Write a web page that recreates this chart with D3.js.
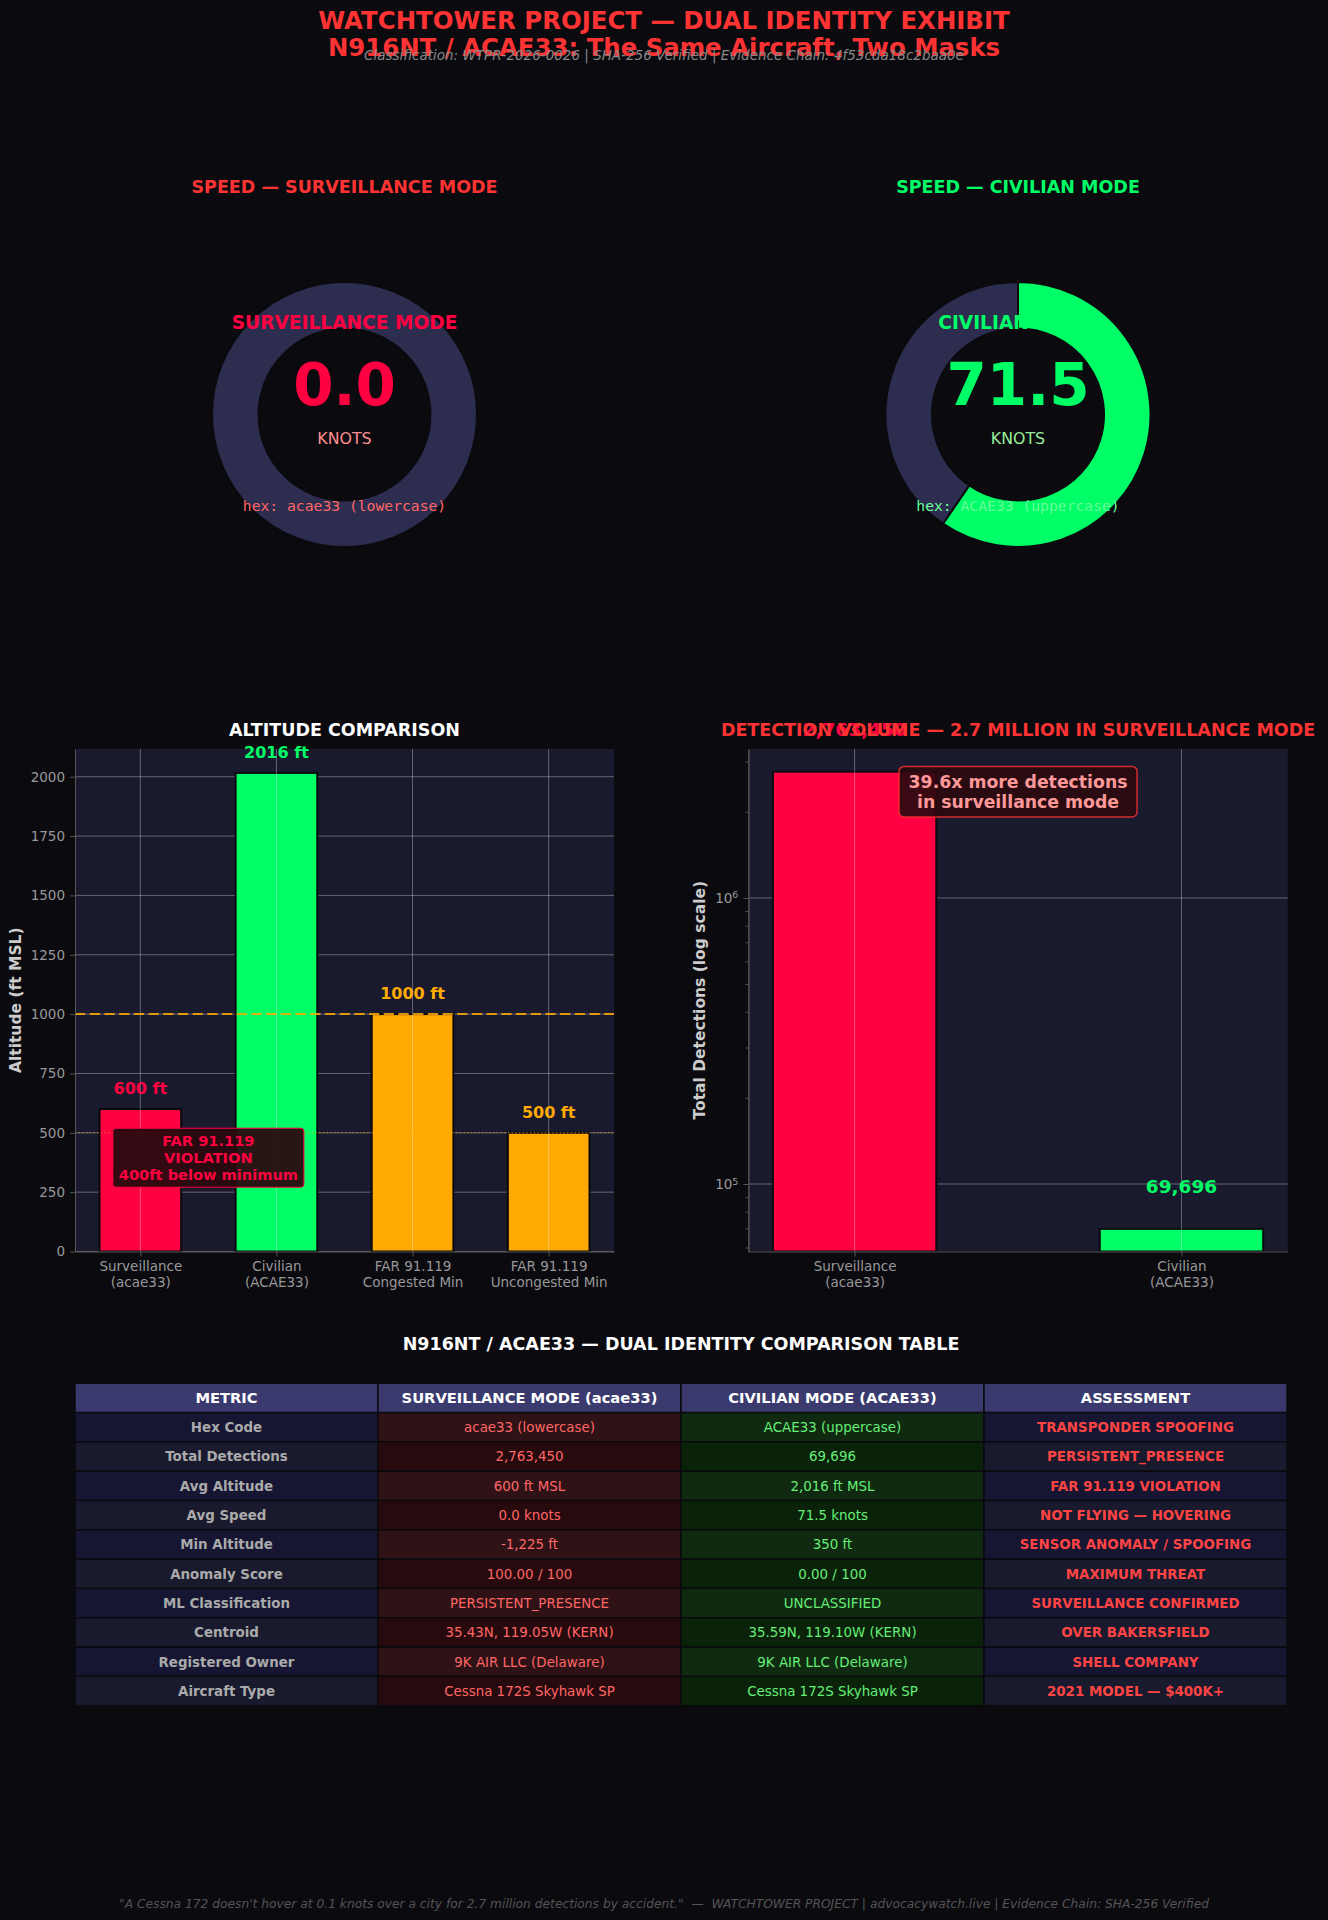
<!DOCTYPE html>
<html>
<head>
<meta charset="utf-8">
<script src="https://cdn.jsdelivr.net/npm/d3@7"></script>
<style>
  body { margin: 0; background: #0a0a0f; }
  svg { display: block; font-family: "DejaVu Sans", sans-serif; }
</style>
</head>
<body>
<svg id="fig" width="1328" height="1920"></svg>
<script>
// ---- data ----
const speedTitles = ["SPEED — SURVEILLANCE MODE", "SPEED — CIVILIAN MODE"]
const speedModes = ["SURVEILLANCE MODE", "CIVILIAN MODE"]
const speedValues = [0.0, 71.5]
const speedMax = 120
const hexLabels = ["hex: acae33 (lowercase)", "hex: ACAE33 (uppercase)"]

const altCategories = ["Surveillance\n(acae33)", "Civilian\n(ACAE33)", "FAR 91.119\nCongested Min", "FAR 91.119\nUncongested Min"]
const altValues = [600, 2016, 1000, 500]
const altTicks = [0, 250, 500, 750, 1000, 1250, 1500, 1750, 2000]
const farCongested = 1000
const farUncongested = 500

const detCategories = ["Surveillance\n(acae33)", "Civilian\n(ACAE33)"]
const detValues = [2763450, 69696]
const detTicks = [1e5, 1e6]
const detRatioText = ["39.6x more detections", "in surveillance mode"]

const tableColumns = ["METRIC", "SURVEILLANCE MODE (acae33)", "CIVILIAN MODE (ACAE33)", "ASSESSMENT"]
const tableMetrics = ["Hex Code", "Total Detections", "Avg Altitude", "Avg Speed", "Min Altitude", "Anomaly Score", "ML Classification", "Centroid", "Registered Owner", "Aircraft Type"]
const survColumn = ["acae33 (lowercase)", "2,763,450", "600 ft MSL", "0.0 knots", "-1,225 ft", "100.00 / 100", "PERSISTENT_PRESENCE", "35.43N, 119.05W (KERN)", "9K AIR LLC (Delaware)", "Cessna 172S Skyhawk SP"]
const civColumn = ["ACAE33 (uppercase)", "69,696", "2,016 ft MSL", "71.5 knots", "350 ft", "0.00 / 100", "UNCLASSIFIED", "35.59N, 119.10W (KERN)", "9K AIR LLC (Delaware)", "Cessna 172S Skyhawk SP"]
const assessColumn = ["TRANSPONDER SPOOFING", "PERSISTENT_PRESENCE", "FAR 91.119 VIOLATION", "NOT FLYING — HOVERING", "SENSOR ANOMALY / SPOOFING", "MAXIMUM THREAT", "SURVEILLANCE CONFIRMED", "OVER BAKERSFIELD", "SHELL COMPANY", "2021 MODEL — $400K+"]

// ---- style ----
const BG = "#0a0a0f", AXBG = "#1a1a2e", RED = "#ff0040", GREEN = "#00ff66", ORANGE = "#ffaa00"
const TITLE_RED = "#ff3333", RING = "#2d2d50", TICK = "#999999", SPINE = "#555555"

const svg = d3.select("#fig")
svg.append("rect").attr("width", 1328).attr("height", 1920).attr("fill", BG)

// header
svg.append("text").attr("x", 664).attr("y", 28.5).attr("text-anchor", "middle")
  .attr("font-size", 24.4).attr("font-weight", "bold").attr("fill", TITLE_RED)
  .text("WATCHTOWER PROJECT — DUAL IDENTITY EXHIBIT")
svg.append("text").attr("x", 664).attr("y", 56).attr("text-anchor", "middle")
  .attr("font-size", 24.4).attr("font-weight", "bold").attr("fill", TITLE_RED)
  .text("N916NT / ACAE33: The Same Aircraft, Two Masks")
svg.append("text").attr("x", 664).attr("y", 59.5).attr("text-anchor", "middle")
  .attr("font-size", 13.5).attr("font-style", "italic").attr("fill", "#888888")
  .text("Classification: WTPR-2026-0026 | SHA-256 Verified | Evidence Chain: 4f53cda18c2baa0e")

// ---- speed donuts ----
const donutCx = [344.5, 1018], donutCy = 414.5
const donutMain = [RED, GREEN], donutKnots = ["#ff9090", "#99ee99"], donutHex = ["#ff6666", "#66ff99"]
const donutTitle = [TITLE_RED, GREEN]
const pie = d3.pie().sort(null).value(d => d)
const arc = d3.arc().innerRadius(86).outerRadius(132.5)

speedValues.forEach((v, i) => {
  const cx = donutCx[i]
  svg.append("text").attr("x", cx).attr("y", 192.5).attr("text-anchor", "middle")
    .attr("font-size", 17.5).attr("font-weight", "bold").attr("fill", donutTitle[i])
    .text(speedTitles[i])
  const g = svg.append("g").attr("transform", `translate(${cx},${donutCy})`)
  g.selectAll("path").data(pie([v, speedMax - v])).join("path")
    .attr("d", arc)
    .attr("fill", (d, j) => j == 0 ? donutMain[i] : RING)
    .attr("stroke", BG).attr("stroke-width", d => d.endAngle - d.startAngle > 0 ? 2 : 0)
  g.append("text").attr("y", 328.8 - donutCy).attr("text-anchor", "middle")
    .attr("font-size", 18.6).attr("font-weight", "bold").attr("fill", donutMain[i])
    .text(speedModes[i])
  g.append("text").attr("y", 405 - donutCy).attr("text-anchor", "middle")
    .attr("font-size", 58).attr("font-weight", "bold").attr("fill", donutMain[i])
    .text(v.toFixed(1))
  g.append("text").attr("y", 443.8 - donutCy).attr("text-anchor", "middle")
    .attr("font-size", 15.8).attr("fill", donutKnots[i])
    .text("KNOTS")
  g.append("text").attr("y", 511 - donutCy).attr("text-anchor", "middle")
    .attr("font-family", "DejaVu Sans Mono, monospace")
    .attr("font-size", 14.7).attr("fill", donutHex[i])
    .text(hexLabels[i])
})

// ---- helpers ----
function styleAxis(g) {
  g.selectAll(".domain").attr("stroke", SPINE).attr("stroke-width", 1)
  g.selectAll(".tick line").attr("stroke", SPINE)
  g.selectAll(".tick text").attr("fill", TICK).attr("font-size", 13.5)
    .attr("font-family", "DejaVu Sans, sans-serif")
}
function multiLineTicks(g, lh) {
  g.selectAll(".tick text").each(function () {
    const t = d3.select(this)
    const lines = t.text().split("\n")
    t.text(null).attr("dy", null).attr("y", 19.5)
    lines.forEach((s, k) => t.append("tspan").attr("x", 0).attr("dy", k == 0 ? 0 : lh).text(s))
  })
}

const AX_TOP = 749, AX_BOT = 1251.5

// ---- altitude comparison ----
{
  const x0 = 75, x1 = 614
  const x = d3.scaleLinear().domain([-0.48, 3.48]).range([x0, x1])
  const y = d3.scaleLinear().domain([0, d3.max(altValues) * 1.05]).range([AX_BOT, AX_TOP])
  const colors = [RED, GREEN, ORANGE, ORANGE]
  const bw = 0.6

  svg.append("rect").attr("x", x0).attr("y", AX_TOP).attr("width", x1 - x0).attr("height", AX_BOT - AX_TOP).attr("fill", AXBG)
  svg.append("g").selectAll("line").data(altTicks).join("line")
    .attr("x1", x0).attr("x2", x1).attr("y1", d => y(d)).attr("y2", d => y(d))
    .attr("stroke", "#ffffff").attr("stroke-opacity", 0.33)

  svg.append("g").selectAll("rect").data(altValues).join("rect")
    .attr("x", (d, i) => x(i - bw / 2)).attr("width", x(bw) - x(0))
    .attr("y", d => y(d)).attr("height", d => y(0) - y(d))
    .attr("fill", (d, i) => colors[i]).attr("stroke", BG).attr("stroke-width", 2)

  svg.append("g").selectAll("line").data(altValues).join("line")
    .attr("x1", (d, i) => x(i)).attr("x2", (d, i) => x(i)).attr("y1", AX_TOP).attr("y2", AX_BOT)
    .attr("stroke", "#ffffff").attr("stroke-opacity", 0.33)

  svg.append("line").attr("x1", x0).attr("x2", x1).attr("y1", y(farCongested)).attr("y2", y(farCongested))
    .attr("stroke", ORANGE).attr("stroke-width", 2).attr("stroke-dasharray", "10.3,4.4").attr("stroke-opacity", 0.85)
  svg.append("line").attr("x1", x0).attr("x2", x1).attr("y1", y(farUncongested)).attr("y2", y(farUncongested))
    .attr("stroke", ORANGE).attr("stroke-width", 1).attr("stroke-dasharray", "1.4,2.3").attr("stroke-opacity", 0.7)

  svg.append("g").selectAll("text").data(altValues).join("text")
    .attr("x", (d, i) => x(i)).attr("y", d => y(d + 45) - 4)
    .attr("text-anchor", "middle").attr("font-size", 16).attr("font-weight", "bold")
    .attr("fill", (d, i) => colors[i]).text(d => `${d} ft`)

  // violation box
  const bx = x(0.5), byc = y(395)
  svg.append("rect").attr("x", bx - 95.5).attr("y", byc - 29.5).attr("width", 191).attr("height", 59)
    .attr("rx", 3).attr("fill", "#2a0a10").attr("fill-opacity", 0.95).attr("stroke", RED).attr("stroke-width", 1)
  const vt = svg.append("text").attr("text-anchor", "middle").attr("font-size", 14.6)
    .attr("font-weight", "bold").attr("fill", RED)
  ;["FAR 91.119", "VIOLATION", "400ft below minimum"].forEach((s, k) =>
    vt.append("tspan").attr("x", bx).attr("y", byc - 11.9 + k * 17.2).text(s))

  const ya = svg.append("g").attr("transform", `translate(${x0},0)`)
    .call(d3.axisLeft(y).tickValues(altTicks).tickFormat(d3.format("d")).tickSize(5).tickPadding(5).tickSizeOuter(0))
  styleAxis(ya)
  const xa = svg.append("g").attr("transform", `translate(0,${AX_BOT})`)
    .call(d3.axisBottom(x).tickValues(d3.range(altCategories.length)).tickFormat(i => altCategories[i]).tickSize(5).tickSizeOuter(0))
  styleAxis(xa)
  multiLineTicks(xa, 15.6)

  svg.append("text").attr("transform", `translate(20.5,${(AX_TOP + AX_BOT) / 2}) rotate(-90)`)
    .attr("text-anchor", "middle").attr("font-size", 15.5).attr("font-weight", "bold").attr("fill", "#cccccc")
    .text("Altitude (ft MSL)")
  svg.append("text").attr("x", (x0 + x1) / 2).attr("y", 736).attr("text-anchor", "middle")
    .attr("font-size", 17.5).attr("font-weight", "bold").attr("fill", "#ffffff")
    .text("ALTITUDE COMPARISON")
}

// ---- detection volume ----
{
  const x0 = 748.4, x1 = 1287.7
  const x = d3.scaleLinear().domain([-0.325, 1.325]).range([x0, x1])
  const y = d3.scaleLog().domain([d3.min(detValues) / 1.2, d3.max(detValues) * 1.2]).range([AX_BOT, AX_TOP])
  const colors = [RED, GREEN]
  const bw = 0.5

  svg.append("rect").attr("x", x0).attr("y", AX_TOP).attr("width", x1 - x0).attr("height", AX_BOT - AX_TOP).attr("fill", AXBG)
  svg.append("g").selectAll("line").data(detTicks).join("line")
    .attr("x1", x0).attr("x2", x1).attr("y1", d => y(d)).attr("y2", d => y(d))
    .attr("stroke", "#ffffff").attr("stroke-opacity", 0.33)

  svg.append("g").selectAll("rect").data(detValues).join("rect")
    .attr("x", (d, i) => x(i - bw / 2)).attr("width", x(bw) - x(0))
    .attr("y", d => y(d)).attr("height", d => AX_BOT - y(d))
    .attr("fill", (d, i) => colors[i]).attr("stroke", BG).attr("stroke-width", 2)

  svg.append("g").selectAll("line").data(detValues).join("line")
    .attr("x1", (d, i) => x(i)).attr("x2", (d, i) => x(i)).attr("y1", AX_TOP).attr("y2", AX_BOT)
    .attr("stroke", "#ffffff").attr("stroke-opacity", 0.33)

  svg.append("g").selectAll("text").data(detValues).join("text")
    .attr("x", (d, i) => x(i)).attr("y", d => y(d * 1.3) - 3.5)
    .attr("text-anchor", "middle").attr("font-size", 18.5).attr("font-weight", "bold")
    .attr("fill", (d, i) => colors[i]).text(d => d3.format(",")(d))

  // ratio box
  const bx = (x0 + x1) / 2, byc = AX_BOT - 0.915 * (AX_BOT - AX_TOP)
  svg.append("rect").attr("x", bx - 119).attr("y", byc - 25.3).attr("width", 238).attr("height", 50.6)
    .attr("rx", 5).attr("fill", "#2a0a0f").attr("fill-opacity", 0.92).attr("stroke", TITLE_RED)
    .attr("stroke-opacity", 0.8).attr("stroke-width", 1.5)
  const rt = svg.append("text").attr("text-anchor", "middle").attr("font-size", 17.3)
    .attr("font-weight", "bold").attr("fill", "#ff9999")
  detRatioText.forEach((s, k) =>
    rt.append("tspan").attr("x", bx).attr("y", byc - 3.5 + k * 19.3).text(s))

  const minor = []
  for (let e = 4; e <= 6; e++) for (let m = 2; m <= 9; m++) {
    const v = m * Math.pow(10, e)
    if (v >= y.domain()[0] && v <= y.domain()[1]) minor.push(v)
  }
  const ym = svg.append("g").attr("transform", `translate(${x0},0)`)
    .call(d3.axisLeft(y).tickValues(minor).tickSize(2.8).tickFormat("").tickSizeOuter(0))
  styleAxis(ym)
  const ya = svg.append("g").attr("transform", `translate(${x0},0)`)
    .call(d3.axisLeft(y).tickValues(detTicks).tickSize(5).tickPadding(5).tickSizeOuter(0))
  styleAxis(ya)
  ya.selectAll(".tick text").each(function (d) {
    const t = d3.select(this).text(null)
    t.append("tspan").text("10")
    t.append("tspan").attr("dy", "-0.45em").attr("font-size", 9.5).text(Math.round(Math.log10(d)))
  })
  const xa = svg.append("g").attr("transform", `translate(0,${AX_BOT})`)
    .call(d3.axisBottom(x).tickValues(d3.range(detCategories.length)).tickFormat(i => detCategories[i]).tickSize(5).tickSizeOuter(0))
  styleAxis(xa)
  multiLineTicks(xa, 15.6)

  svg.append("text").attr("transform", `translate(704.8,${(AX_TOP + AX_BOT) / 2}) rotate(-90)`)
    .attr("text-anchor", "middle").attr("font-size", 15.5).attr("font-weight", "bold").attr("fill", "#cccccc")
    .text("Total Detections (log scale)")
  svg.append("text").attr("x", (x0 + x1) / 2).attr("y", 736.4).attr("text-anchor", "middle")
    .attr("font-size", 17.5).attr("font-weight", "bold").attr("fill", TITLE_RED)
    .text("DETECTION VOLUME — 2.7 MILLION IN SURVEILLANCE MODE")
}

// ---- comparison table ----
{
  svg.append("text").attr("x", 681).attr("y", 1350.4).attr("text-anchor", "middle")
    .attr("font-size", 17.5).attr("font-weight", "bold").attr("fill", "#ffffff")
    .text("N916NT / ACAE33 — DUAL IDENTITY COMPARISON TABLE")

  const cols = d3.scaleBand().domain(d3.range(4)).range([75, 1287])
  const rows = d3.scaleBand().domain(d3.range(tableMetrics.length + 1)).range([1383.3, 1705.7])
  const bodyCols = [tableMetrics, survColumn, civColumn, assessColumn]
  const fills = [
    ["#161633", "#1a1a2e"],
    ["#2e1216", "#270a0d"],
    ["#0f2a10", "#0a220a"],
    ["#161633", "#1a1a2e"]
  ]
  const textFill = ["#aaaaaa", "#ff6666", "#66ee77", "#ff4444"]
  const textWeight = ["bold", "normal", "normal", "bold"]

  const cells = []
  tableColumns.forEach((h, c) => cells.push({ r: 0, c, text: h, fill: "#3a3a6e", color: "#ffffff", weight: "bold", size: 14.7 }))
  tableMetrics.forEach((m, r) => bodyCols.forEach((col, c) => cells.push({
    r: r + 1, c, text: col[r], fill: fills[c][r % 2], color: textFill[c], weight: textWeight[c], size: 13.4
  })))

  const g = svg.append("g")
  g.selectAll("rect").data(cells).join("rect")
    .attr("x", d => cols(d.c)).attr("y", d => rows(d.r))
    .attr("width", cols.bandwidth()).attr("height", rows.bandwidth())
    .attr("fill", d => d.fill).attr("stroke", BG).attr("stroke-width", 1.5)
  g.selectAll("text").data(cells).join("text")
    .attr("x", d => cols(d.c) + cols.bandwidth() / 2)
    .attr("y", d => rows(d.r) + rows.bandwidth() / 2 + d.size * 0.36)
    .attr("text-anchor", "middle").attr("font-size", d => d.size).attr("font-weight", d => d.weight)
    .attr("fill", d => d.color).text(d => d.text)
}

// footer
svg.append("text").attr("x", 664).attr("y", 1908.3).attr("text-anchor", "middle")
  .attr("font-size", 12.25).attr("font-style", "italic").attr("fill", "#555555")
  .attr("xml:space", "preserve")
  .text("\"A Cessna 172 doesn't hover at 0.1 knots over a city for 2.7 million detections by accident.\"  —  WATCHTOWER PROJECT | advocacywatch.live | Evidence Chain: SHA-256 Verified")
</script>
</body>
</html>
